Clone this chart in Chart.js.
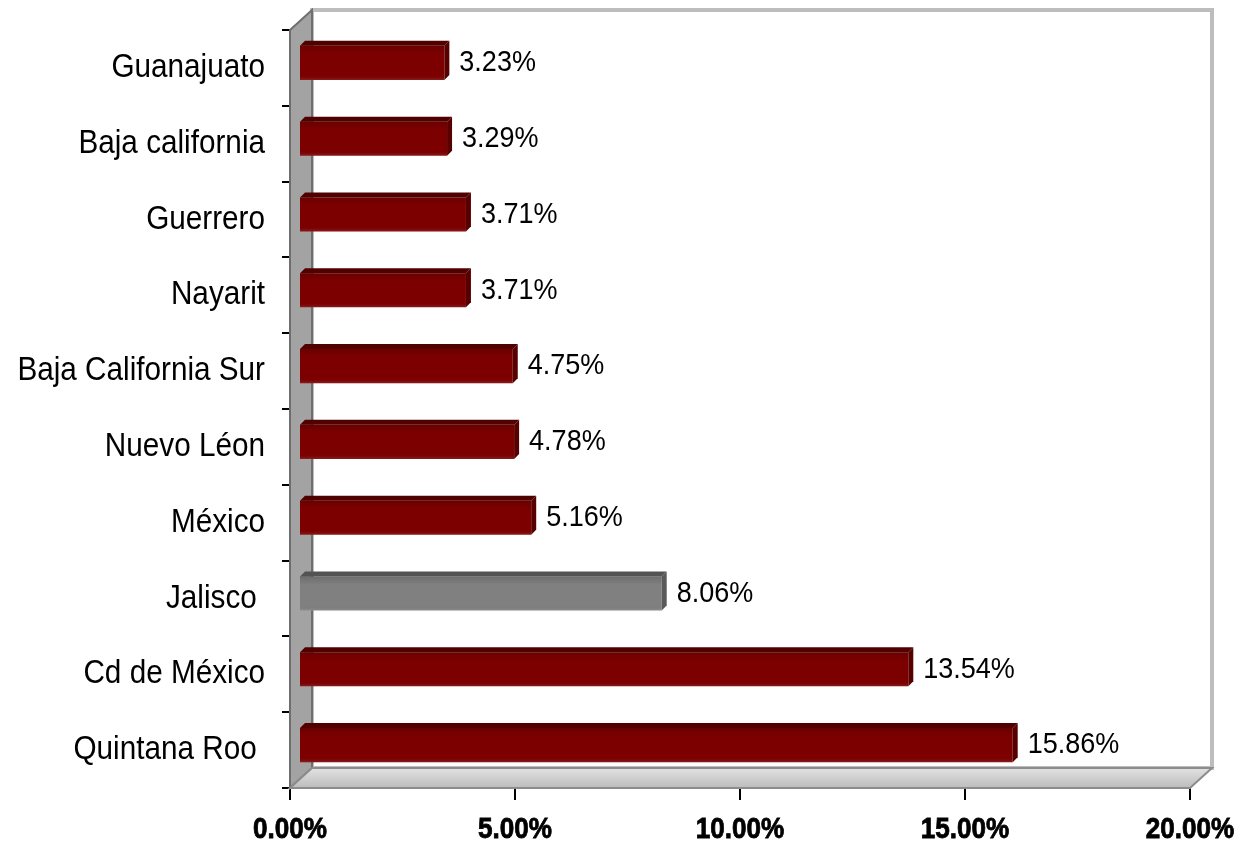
<!DOCTYPE html>
<html>
<head>
<meta charset="utf-8">
<script src="https://cdn.jsdelivr.net/npm/chart.js@4/dist/chart.umd.min.js"></script>
<style>
html,body{margin:0;padding:0;background:#fff;}
#wrap{width:1243px;height:846px;}
</style>
</head>
<body>
<div id="wrap"><canvas id="c" width="1243" height="846"></canvas></div>
<script>
const categories = ["Guanajuato", "Baja california", "Guerrero", "Nayarit", "Baja California Sur", "Nuevo Léon", "México", "Jalisco ", "Cd de México", "Quintana Roo "];
const values = [3.23, 3.29, 3.71, 3.71, 4.75, 4.78, 5.16, 8.06, 13.54, 15.86];
const barColors = ["#7d0000", "#7d0000", "#7d0000", "#7d0000", "#7d0000", "#7d0000", "#7d0000", "#808080", "#7d0000", "#7d0000"];
const xTicks = [0, 5, 10, 15, 20];

const FONT = "'Liberation Sans', Arial, sans-serif";
const SX = 0.9;            // horizontal condensing of text (Arial Narrow look)
const DX = 22, DY = -20;   // depth of the 3D walls
const BX = 9, BY = -5;     // bars sit slightly back in depth

function shade(hex, f) {
  const n = parseInt(hex.slice(1), 16);
  let r = (n >> 16) & 255, g = (n >> 8) & 255, b = n & 255;
  const m = v => Math.max(0, Math.min(255, Math.round(f >= 0 ? v + (255 - v) * f : v * (1 + f))));
  return `rgb(${m(r)},${m(g)},${m(b)})`;
}

function narrowText(ctx, text, x, y, align, font, strokeW) {
  ctx.save();
  ctx.font = font;
  ctx.textBaseline = 'middle';
  ctx.textAlign = align;
  ctx.translate(x, y);
  ctx.scale(SX, 1);
  ctx.fillText(text, 0, 0);
  if (strokeW) {
    ctx.lineWidth = strokeW;
    ctx.strokeStyle = ctx.fillStyle;
    ctx.strokeText(text, 0, 0);
  }
  ctx.restore();
}

const wallsPlugin = {
  id: 'walls',
  beforeDatasetsDraw(chart) {
    const {ctx, chartArea: a} = chart;
    ctx.save();
    // back wall
    ctx.fillStyle = '#ffffff';
    ctx.strokeStyle = '#bdbdbd';
    ctx.lineWidth = 4;
    ctx.beginPath();
    ctx.rect(a.left + DX, a.top + DY, a.right - a.left, a.bottom - a.top);
    ctx.fill(); ctx.stroke();
    // left side wall
    ctx.fillStyle = '#a3a3a3';
    ctx.strokeStyle = '#6e6e6e';
    ctx.lineWidth = 2;
    ctx.beginPath();
    ctx.moveTo(a.left, a.top);
    ctx.lineTo(a.left + DX, a.top + DY);
    ctx.lineTo(a.left + DX, a.bottom + DY);
    ctx.lineTo(a.left, a.bottom);
    ctx.closePath();
    ctx.fill(); ctx.stroke();
    // floor
    const g = ctx.createLinearGradient(0, a.bottom + DY, 0, a.bottom);
    g.addColorStop(0, '#e2e2e2');
    g.addColorStop(1, '#bcbcbc');
    ctx.fillStyle = g;
    ctx.strokeStyle = '#8c8c8c';
    ctx.beginPath();
    ctx.moveTo(a.left, a.bottom);
    ctx.lineTo(a.left + DX, a.bottom + DY);
    ctx.lineTo(a.right + DX, a.bottom + DY);
    ctx.lineTo(a.right, a.bottom);
    ctx.closePath();
    ctx.fill(); ctx.stroke();
    ctx.restore();
    // shift bars back into depth
    ctx.save();
    ctx.translate(BX, BY);
  },
  afterDatasetsDraw(chart) {
    const {ctx} = chart;
    const meta = chart.getDatasetMeta(0);
    meta.data.forEach((bar, i) => {
      const h = bar.height;
      const top = bar.y - h / 2, bot = bar.y + h / 2;
      const x0 = bar.base, x1 = bar.x;
      const d = 5;
      const col = barColors[i];
      // top face
      ctx.fillStyle = shade(col, -0.35);
      ctx.beginPath();
      ctx.moveTo(x0, top);
      ctx.lineTo(x0 + d, top - d);
      ctx.lineTo(x1 + d, top - d);
      ctx.lineTo(x1, top);
      ctx.closePath();
      ctx.fill();
      // right face
      ctx.fillStyle = shade(col, -0.3);
      ctx.beginPath();
      ctx.moveTo(x1, top);
      ctx.lineTo(x1 + d, top - d);
      ctx.lineTo(x1 + d, bot - d);
      ctx.lineTo(x1, bot);
      ctx.closePath();
      ctx.fill();
      // subtle shading of front face
      const g = ctx.createLinearGradient(0, top, 0, bot);
      g.addColorStop(0, 'rgba(0,0,0,0.15)');
      g.addColorStop(0.25, 'rgba(0,0,0,0)');
      g.addColorStop(0.85, 'rgba(0,0,0,0)');
      g.addColorStop(1, 'rgba(255,255,255,0.12)');
      ctx.fillStyle = g;
      ctx.fillRect(x0, top, x1 - x0, h);
    });
    // value labels
    ctx.fillStyle = '#000';
    meta.data.forEach((bar, i) => {
      narrowText(ctx, values[i].toFixed(2) + '%', bar.x + 15, bar.y, 'left', "30px " + FONT);
    });
    ctx.restore();
  },
  afterDraw(chart) {
    const {ctx} = chart;
    const xs = chart.scales.x, ys = chart.scales.y;
    ctx.save();
    ctx.fillStyle = '#000';
    ys.ticks.forEach((t, i) => {
      narrowText(ctx, categories[t.value], ys.right - 25, ys.getPixelForTick(i), 'right', "33px " + FONT);
    });
    xs.ticks.forEach((t, i) => {
      narrowText(ctx, Number(t.value).toFixed(2) + '%', xs.getPixelForTick(i), xs.top + 42, 'center', "bold 29px " + FONT, 0.8);
    });
    ctx.restore();
  }
};

new Chart(document.getElementById('c'), {
  type: 'bar',
  data: {
    labels: categories,
    datasets: [{
      data: values,
      backgroundColor: barColors,
      borderWidth: 0,
      categoryPercentage: 1.0,
      barPercentage: 0.45
    }]
  },
  options: {
    indexAxis: 'y',
    responsive: false,
    animation: false,
    devicePixelRatio: 1,
    layout: { padding: { top: 30, right: 53, left: 0, bottom: 0 } },
    plugins: { legend: { display: false }, tooltip: { enabled: false } },
    scales: {
      x: {
        min: 0, max: 20,
        afterBuildTicks(scale) { scale.ticks = xTicks.map(v => ({value: v})); },
        ticks: { display: false },
        grid: { drawOnChartArea: false, tickLength: 12, color: '#000', lineWidth: 2 },
        border: { display: true, color: '#000', width: 2 },
        afterFit(scale) { scale.height = 58; }
      },
      y: {
        ticks: { display: false },
        grid: { offset: true, drawOnChartArea: false, tickLength: 8, color: '#000', lineWidth: 2 },
        border: { display: true, color: '#000', width: 2 },
        afterFit(scale) { scale.width = 290; }
      }
    }
  },
  plugins: [wallsPlugin]
});
</script>
</body>
</html>
